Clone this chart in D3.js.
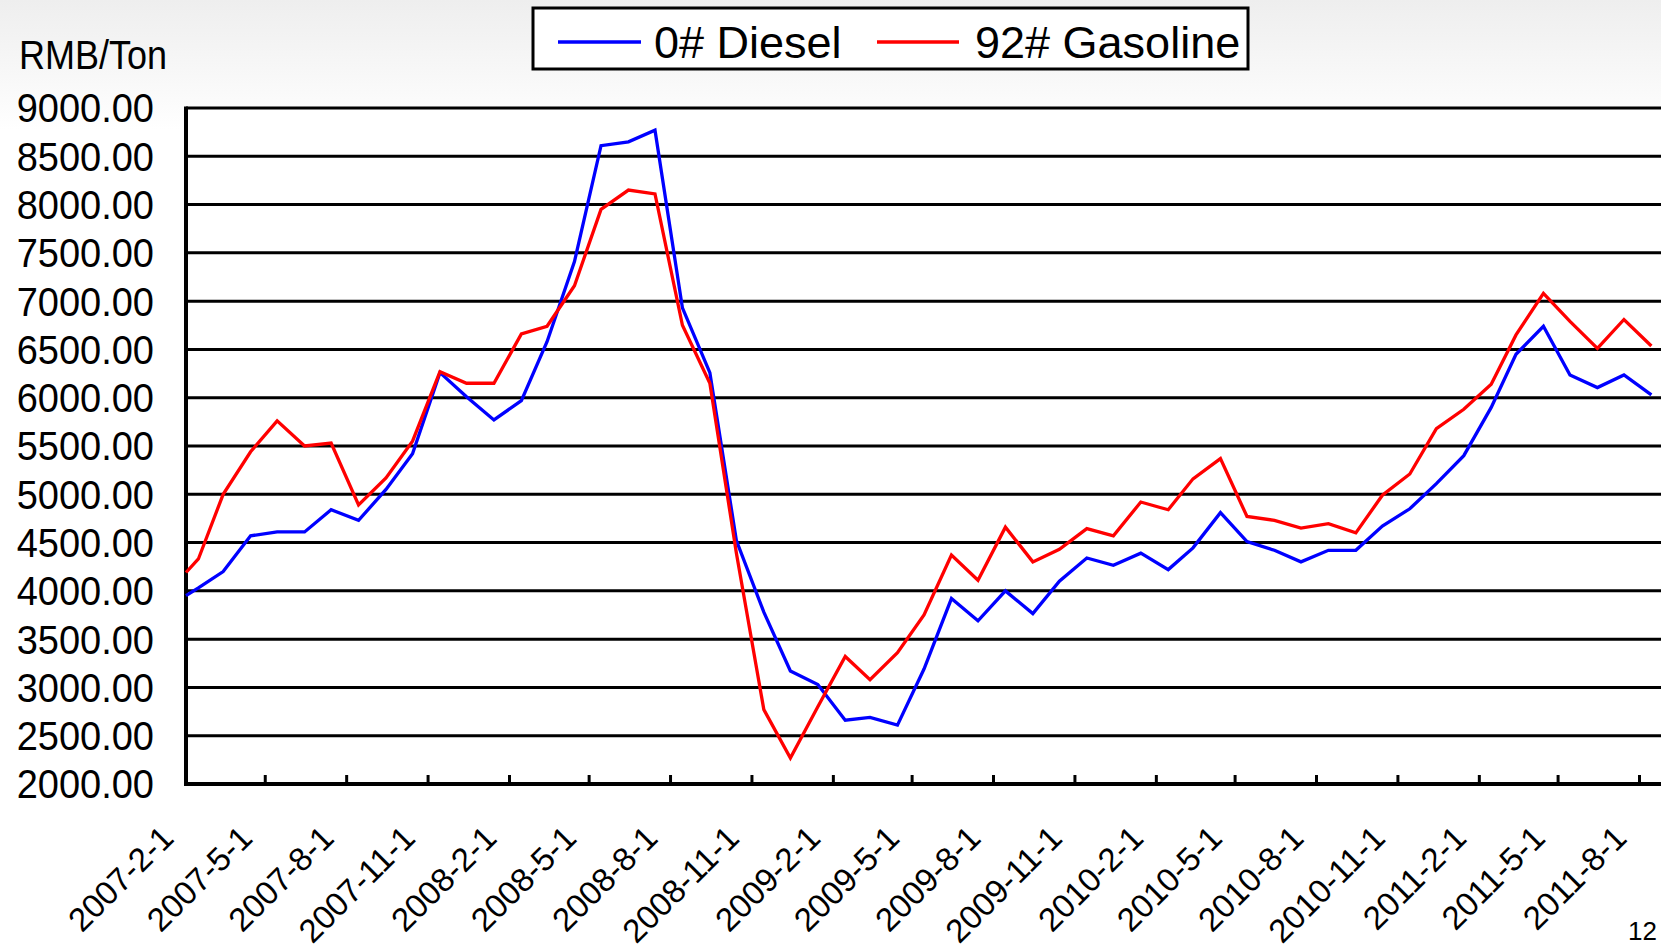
<!DOCTYPE html>
<html><head><meta charset="utf-8">
<script src="https://cdn.jsdelivr.net/npm/d3@7/dist/d3.min.js"></script>
<style>
body{margin:0;background:#fff;}
svg{display:block;font-family:"Liberation Sans",Arial,Helvetica,sans-serif;}
</style>
</head><body>
<svg id="c" width="1661" height="949"></svg>
<script>
// ---------- DATA ----------
const dates = [
 "2007-02-01","2007-02-15","2007-03-15","2007-04-15","2007-05-15","2007-06-15","2007-07-15","2007-08-15",
 "2007-09-15","2007-10-15","2007-11-15","2007-12-15","2008-01-15","2008-02-15","2008-03-15","2008-04-15",
 "2008-05-15","2008-06-15","2008-07-15","2008-08-15","2008-09-15","2008-10-15","2008-11-15","2008-12-15",
 "2009-01-15","2009-02-15","2009-03-15","2009-04-15","2009-05-15","2009-06-15","2009-07-15","2009-08-15",
 "2009-09-15","2009-10-15","2009-11-15","2009-12-15","2010-01-15","2010-02-15","2010-03-15","2010-04-15",
 "2010-05-15","2010-06-15","2010-07-15","2010-08-15","2010-09-15","2010-10-15","2010-11-15","2010-12-15",
 "2011-01-15","2011-02-15","2011-03-15","2011-04-15","2011-05-15","2011-06-15","2011-07-15","2011-08-15"
];
const diesel = [
 3950,4030,4200,4570,4610,4610,4840,4730,
 5050,5420,6260,6010,5770,5970,6580,7410,
 8610,8650,8770,6930,6260,4520,3780,3170,
 3030,2660,2690,2610,3190,3920,3690,4000,
 3765,4100,4340,4265,4390,4220,4445,4810,
 4510,4420,4300,4420,4420,4670,4850,5110,
 5400,5900,6450,6740,6235,6105,6235,6030
];
const gasoline = [
 4190,4330,5000,5440,5760,5500,5530,4890,
 5170,5550,6270,6150,6150,6660,6740,7160,
 7950,8150,8110,6750,6150,4390,2770,2270,
 2800,3320,3080,3360,3750,4370,4110,4660,
 4300,4430,4645,4570,4920,4840,5160,5370,
 4770,4730,4650,4695,4600,4990,5210,5680,
 5880,6140,6650,7080,6790,6510,6810,6535
];
const seriesNames = ["0# Diesel","92# Gasoline"];
const seriesColors = ["#0000ff","#ff0000"];
const yTicks = [2000,2500,3000,3500,4000,4500,5000,5500,6000,6500,7000,7500,8000,8500,9000];
const xTickDates = ["2007-02-01","2007-05-01","2007-08-01","2007-11-01","2008-02-01","2008-05-01",
 "2008-08-01","2008-11-01","2009-02-01","2009-05-01","2009-08-01","2009-11-01","2010-02-01",
 "2010-05-01","2010-08-01","2010-11-01","2011-02-01","2011-05-01","2011-08-01"];
const yUnit = "RMB/Ton";
const pageNo = "12";

// ---------- DRAW ----------
(function(){
const W = 1661, H = 949;
const pL = 186, pR = 1661, pT = 108, pB = 784;
const parse = d3.utcParse("%Y-%m-%d");
const svg = d3.select("#c");

const defs = svg.append("defs");
const g = defs.append("linearGradient").attr("id","bg").attr("x1",0).attr("y1",0).attr("x2",0).attr("y2",1);
g.append("stop").attr("offset","0").attr("stop-color","#eeeeee");
g.append("stop").attr("offset","1").attr("stop-color","#ffffff");
svg.append("rect").attr("width",W).attr("height",H).attr("fill","#fff");
svg.append("rect").attr("width",W).attr("height",130).attr("fill","url(#bg)");

const x = d3.scaleUtc().domain([parse("2007-02-01"), parse("2011-08-01")]).range([pL, 1639]);
const y = d3.scaleLinear().domain([2000, 9000]).range([pB, pT]);

svg.append("rect").attr("x",pL).attr("y",pT).attr("width",pR-pL).attr("height",pB-pT).attr("fill","#fff");

svg.append("g").selectAll("line").data(yTicks.filter(v=>v>2000)).join("line")
  .attr("x1",pL).attr("x2",pR).attr("y1",d=>y(d)).attr("y2",d=>y(d))
  .attr("stroke","#000").attr("stroke-width",3);

svg.append("g").attr("transform","translate(154,0) scale(0.95,1)")
  .selectAll("text").data(yTicks).join("text")
  .attr("x",0).attr("y",d=>y(d)).attr("dy","0.36em")
  .attr("text-anchor","end").attr("font-size",40).attr("fill","#000")
  .text(d=>d3.format(".2f")(d));

svg.append("text").attr("transform","translate(19,69) scale(0.9,1)")
  .attr("font-size",40).attr("fill","#000").text(yUnit);

const fmt = d3.utcFormat("%Y-%-m-%-d");
const xAxis = d3.axisBottom(x).tickValues(xTickDates.map(parse)).tickSize(-9).tickPadding(0).tickFormat(fmt);
const ax = svg.append("g").attr("transform",`translate(0,${pB})`).call(xAxis);
ax.select(".domain").remove();
ax.selectAll(".tick line").attr("stroke","#000").attr("stroke-width",3);
ax.selectAll(".tick text")
  .attr("x",0).attr("y",0).attr("dy",0)
  .attr("font-size",33).attr("font-family","'Liberation Sans',Arial,sans-serif").attr("fill","#000")
  .attr("text-anchor","end")
  .attr("transform","translate(-11,56) rotate(-45)");

svg.append("line").attr("x1",pL).attr("x2",pL).attr("y1",pT-1.5).attr("y2",pB+2)
  .attr("stroke","#000").attr("stroke-width",4);
svg.append("line").attr("x1",pL-2).attr("x2",pR).attr("y1",pB).attr("y2",pB)
  .attr("stroke","#000").attr("stroke-width",4);

const line = d3.line().x((d,i)=>x(parse(dates[i]))).y(d=>y(d));
[diesel, gasoline].forEach((s,k)=>{
  svg.append("path").datum(s).attr("d",line).attr("fill","none")
    .attr("stroke",seriesColors[k]).attr("stroke-width",3.3).attr("stroke-linejoin","miter");
});

const lg = svg.append("g");
lg.append("rect").attr("x",533).attr("y",8).attr("width",715).attr("height",61)
  .attr("fill","#fff").attr("stroke","#000").attr("stroke-width",3);
const legendItems = [{lx1:558,lx2:641,tx:654},{lx1:877,lx2:959,tx:975}];
legendItems.forEach((it,k)=>{
  lg.append("line").attr("x1",it.lx1).attr("x2",it.lx2).attr("y1",42).attr("y2",42)
    .attr("stroke",seriesColors[k]).attr("stroke-width",3.3);
  lg.append("text").attr("x",it.tx).attr("y",58).attr("font-size",45).attr("fill","#000").text(seriesNames[k]);
});

svg.append("text").attr("x",1628).attr("y",940).attr("font-size",26).attr("fill","#000").text(pageNo);
})();
</script>
</body></html>
